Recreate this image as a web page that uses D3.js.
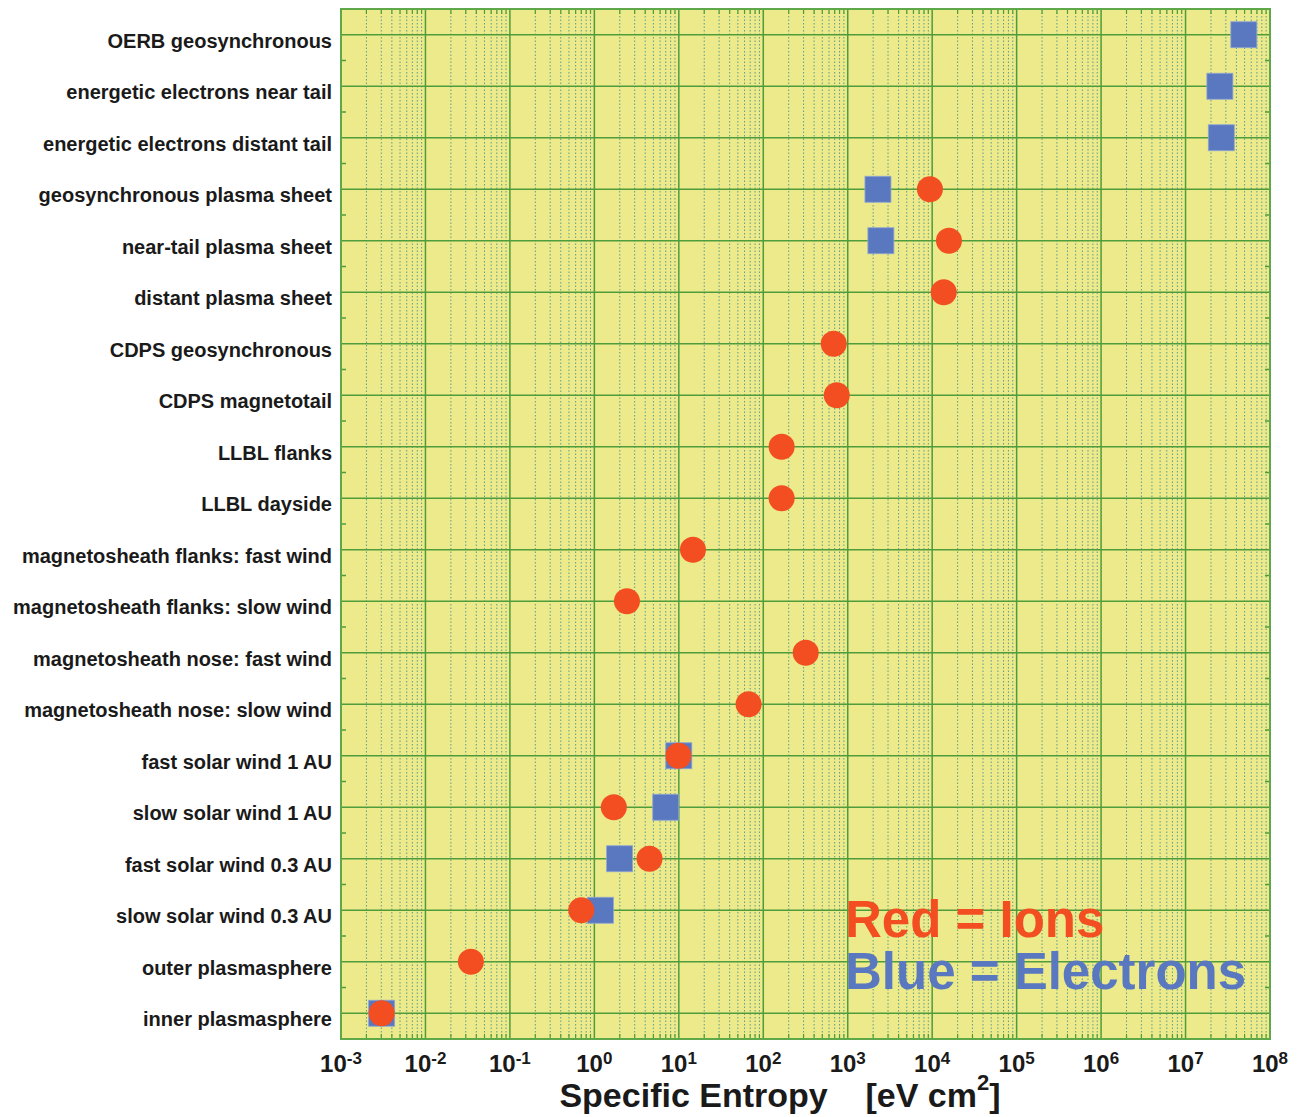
<!DOCTYPE html>
<html><head><meta charset="utf-8">
<script src="https://cdn.jsdelivr.net/npm/d3@7"></script>
<style>body{margin:0;background:#fff;} svg{display:block;}</style>
</head><body>
<svg id="chart" width="1301" height="1117"></svg>
<script>
const categories = [
  "OERB geosynchronous","energetic electrons near tail","energetic electrons distant tail",
  "geosynchronous plasma sheet","near-tail plasma sheet","distant plasma sheet",
  "CDPS geosynchronous","CDPS magnetotail","LLBL flanks","LLBL dayside",
  "magnetosheath flanks: fast wind","magnetosheath flanks: slow wind",
  "magnetosheath nose: fast wind","magnetosheath nose: slow wind",
  "fast solar wind 1 AU","slow solar wind 1 AU","fast solar wind 0.3 AU",
  "slow solar wind 0.3 AU","outer plasmasphere","inner plasmasphere"];
const ionValues = [null,null,null,9400,15800,13700,683,741,165,165,14.7,2.43,318,67,9.9,1.70,4.5,0.70,0.0345,0.00303];
const electronValues = [4.9e7,2.55e7,2.65e7,2280,2470,null,null,null,null,null,null,null,null,null,10.0,7.0,1.99,1.18,null,0.00303];
const tickExponents = [-3,-2,-1,0,1,2,3,4,5,6,7,8];
const xTitle = "Specific Entropy";
const xUnit = "[eV cm";
const legendIons = "Red = Ions";
const legendElectrons = "Blue = Electrons";

const svg = d3.select("#chart");
const L = 341, R = 1270, T = 9, B = 1039;
const x = d3.scaleLog().domain([1e-3, 1e8]).range([L, R]);
const y = d3.scaleBand().domain(categories).range([T, B]).padding(0);
const yc = c => y(c) + y.bandwidth() / 2;

const bg = "#ecea8a", green = "#4f9c3c", dotCol = "#5e9d8c";
const red = "#f24e22", blue = "#5a78bf";

svg.append("rect").attr("x", L).attr("y", T).attr("width", R - L).attr("height", B - T).attr("fill", bg);

const allTicks = x.ticks(100).filter(v => v >= 1e-3 && v <= 1e8);
const major = allTicks.filter(v => Math.abs(Math.log10(v) - Math.round(Math.log10(v))) < 1e-9);
const minor = allTicks.filter(v => !major.includes(v));

svg.append("g").selectAll("line").data(minor).join("line")
  .attr("x1", d => x(d)).attr("x2", d => x(d)).attr("y1", T).attr("y2", B)
  .attr("stroke", dotCol).attr("stroke-width", 1).attr("stroke-dasharray", "1.5,2");
svg.append("g").selectAll("line").data(minor).join("line")
  .attr("x1", d => x(d)).attr("x2", d => x(d)).attr("y1", T).attr("y2", T + 5)
  .attr("stroke", green).attr("stroke-width", 1.2);
svg.append("g").selectAll("line").data(minor).join("line")
  .attr("x1", d => x(d)).attr("x2", d => x(d)).attr("y1", B - 5).attr("y2", B)
  .attr("stroke", green).attr("stroke-width", 1.2);
svg.append("g").selectAll("line").data(major).join("line")
  .attr("x1", d => x(d)).attr("x2", d => x(d)).attr("y1", T).attr("y2", B)
  .attr("stroke", green).attr("stroke-width", 1.5);
svg.append("g").selectAll("line").data(categories).join("line")
  .attr("x1", L).attr("x2", R).attr("y1", d => yc(d)).attr("y2", d => yc(d))
  .attr("stroke", green).attr("stroke-width", 1.5);
const mids = categories.slice(1).map(c => y(c));
svg.append("g").selectAll("line").data(mids).join("line")
  .attr("x1", L).attr("x2", L + 5).attr("y1", d => d).attr("y2", d => d)
  .attr("stroke", green).attr("stroke-width", 1.5);
svg.append("g").selectAll("line").data(mids).join("line")
  .attr("x1", R - 5).attr("x2", R).attr("y1", d => d).attr("y2", d => d)
  .attr("stroke", green).attr("stroke-width", 1.5);
svg.append("rect").attr("x", L).attr("y", T).attr("width", R - L).attr("height", B - T)
  .attr("fill", "none").attr("stroke", "#5fa84a").attr("stroke-width", 2);

const font = "'Liberation Sans', Arial, Helvetica, sans-serif";
svg.append("g").selectAll("text").data(categories).join("text")
  .attr("x", 332).attr("y", d => yc(d) + 13)
  .attr("text-anchor", "end").attr("font-family", font).attr("font-weight", "bold")
  .attr("font-size", 20).attr("fill", "#1a1a1a").text(d => d);

const tl = svg.append("g").selectAll("text").data(tickExponents).join("text")
  .attr("x", d => x(Math.pow(10, d))).attr("y", 1072)
  .attr("text-anchor", "middle").attr("font-family", font).attr("font-weight", "bold")
  .attr("font-size", 24).attr("fill", "#1a1a1a");
tl.append("tspan").text("10");
tl.append("tspan").attr("dy", -8).attr("font-size", 17).text(d => String(d));

const tt = svg.append("text").attr("x", 780).attr("y", 1107).attr("text-anchor", "middle")
  .attr("font-family", font).attr("font-weight", "bold").attr("font-size", 34).attr("fill", "#1a1a1a")
  .attr("xml:space", "preserve");
tt.append("tspan").text(xTitle + "    " + xUnit);
tt.append("tspan").attr("dy", -17).attr("font-size", 22).text("2");
tt.append("tspan").attr("dy", 17).text("]");

const s = 26;
const eData = categories.map((c, i) => ({c, v: electronValues[i]})).filter(d => d.v != null);
svg.append("g").selectAll("rect").data(eData).join("rect")
  .attr("x", d => x(d.v) - s / 2).attr("y", d => yc(d.c) - s / 2)
  .attr("width", s).attr("height", s).attr("fill", blue)
  .attr("stroke", "#8fa6d6").attr("stroke-width", 0.8);
const iData = categories.map((c, i) => ({c, v: ionValues[i]})).filter(d => d.v != null);
svg.append("g").selectAll("circle").data(iData).join("circle")
  .attr("cx", d => x(d.v)).attr("cy", d => yc(d.c)).attr("r", 13).attr("fill", red);

svg.append("text").attr("x", 845).attr("y", 937).attr("font-family", font).attr("font-weight", "bold")
  .attr("font-size", 51).attr("fill", red).text(legendIons);
svg.append("text").attr("x", 845).attr("y", 989).attr("font-family", font).attr("font-weight", "bold")
  .attr("font-size", 51).attr("fill", blue).text(legendElectrons);
</script>
</body></html>
